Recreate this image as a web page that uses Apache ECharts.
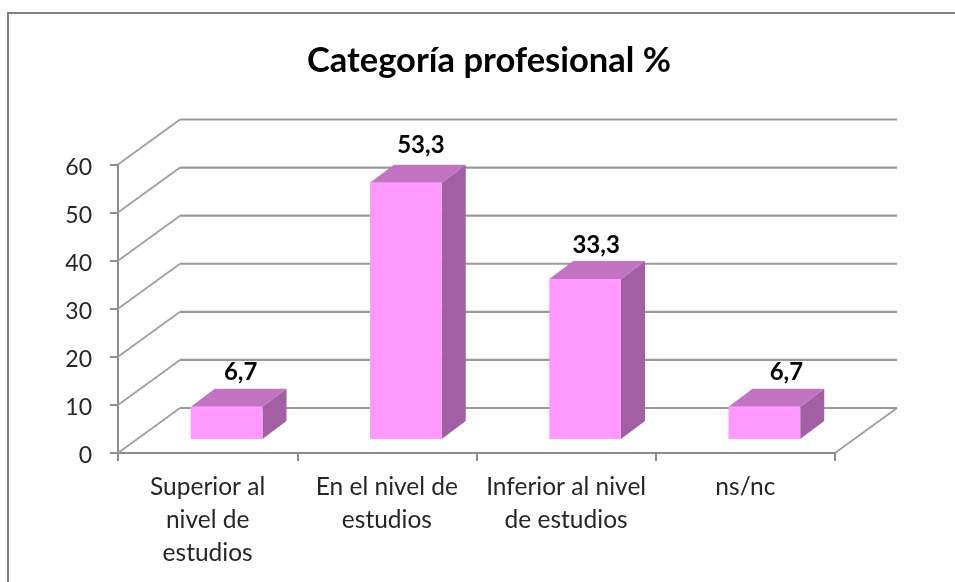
<!DOCTYPE html>
<html>
<head>
<meta charset="utf-8">
<style>html,body{margin:0;padding:0;background:#fff}#c{width:955px;height:582px}</style>
<script src="https://cdn.jsdelivr.net/npm/echarts@6/dist/echarts.min.js"></script>
</head>
<body>
<div id="c"></div>
<script>
const titleText = 'Categoría profesional %';
const categories = ['Superior al\nnivel de\nestudios', 'En el nivel de\nestudios', 'Inferior al nivel\nde estudios', 'ns/nc'];
const values = [6.7, 53.3, 33.3, 6.7];
const yTicks = [0, 10, 20, 30, 40, 50, 60];

const FONT = 'Lato';
const WALL = [62, -45];       // floor depth in px
const BAR_FRONT = [19, -14];  // bar front plane offset
const BAR_DEPTH = [24, -18];  // bar depth
const LABEL_NUDGE = [[0, 0], [1, -2], [-3, 1], [8, 0]]; // hand-placed labels

const chart = echarts.init(document.getElementById('c'));

function renderWall(params, api) {
  const cs = params.coordSys;
  const y = api.coord([0, api.value(0)])[1];
  const x0 = cs.x, x1 = cs.x + cs.width;
  const lineStyle = { stroke: '#999999', lineWidth: 2.2, fill: null };
  const diag = { stroke: '#a0a0a0', lineWidth: 1.8 };
  const children = [
    { type: 'line', shape: { x1: x0, y1: y, x2: x0 + WALL[0], y2: y + WALL[1] }, style: diag },
    { type: 'line', shape: { x1: x0 + WALL[0], y1: y + WALL[1], x2: x1 + WALL[0], y2: y + WALL[1] }, style: lineStyle }
  ];
  if (api.value(0) === 0) {
    children.push({ type: 'line', shape: { x1: x1, y1: y, x2: x1 + WALL[0], y2: y + WALL[1] }, style: diag });
  }
  return { type: 'group', children };
}

function renderBar(params, api) {
  const i = api.value(0), v = api.value(1);
  const w = api.size([1, 0])[0] * 0.4;
  const top = api.coord([i, v]);
  const base = api.coord([i, 0]);
  const l = top[0] - w / 2 + BAR_FRONT[0], r = l + w;
  const t = top[1] + BAR_FRONT[1], b = base[1] + BAR_FRONT[1];
  const dx = BAR_DEPTH[0], dy = BAR_DEPTH[1];
  const n = LABEL_NUDGE[i];
  return {
    type: 'group',
    children: [
      { type: 'polygon', shape: { points: [[r, t], [r + dx, t + dy], [r + dx, b + dy], [r, b]] },
        style: { fill: '#a35fa3' } },
      { type: 'polygon', shape: { points: [[l, t], [l + dx, t + dy], [r + dx, t + dy], [r, t]] },
        style: { fill: '#c273c2' } },
      { type: 'rect', shape: { x: l, y: t, width: w, height: b - t },
        style: { fill: '#ff99ff' } },
      { type: 'text',
        style: { x: (l + r) / 2 + 14 + n[0], y: t + dy - 17 + n[1], text: String(v).replace('.', ','),
          fill: '#000', font: 'bold 24px ' + FONT, align: 'center', verticalAlign: 'middle' } }
    ]
  };
}

chart.setOption({
  animation: false,
  backgroundColor: '#ffffff',
  title: {
    text: titleText, left: 484, top: 38, textAlign: 'center',
    textStyle: { fontFamily: FONT, fontSize: 34.5, fontWeight: 'bold', color: '#000' }
  },
  grid: { left: 118, right: 120, top: 164.5, bottom: 129, containLabel: false },
  xAxis: {
    type: 'category', data: categories,
    axisLine: { lineStyle: { color: '#8c8c8c', width: 2 } },
    axisTick: { show: true, length: 8, lineStyle: { color: '#8c8c8c', width: 2 } },
    axisLabel: { interval: 0, margin: 18, lineHeight: 33, fontFamily: FONT, fontSize: 24.5, color: '#262626' },
    splitLine: { show: false }
  },
  yAxis: {
    type: 'value', min: 0, max: 60, interval: 10,
    axisLine: { show: true, lineStyle: { color: '#8c8c8c', width: 2 } },
    axisTick: { show: true, length: 8, lineStyle: { color: '#8c8c8c', width: 2 } },
    axisLabel: { margin: 26, verticalAlign: 'top', lineHeight: 6, fontFamily: FONT, fontSize: 23, color: '#262626', formatter: v => String(v) },
    splitLine: { show: false }
  },
  graphic: [{
    type: 'polyline', silent: true, z: -1,
    shape: { points: [[8, 582], [8, 13], [955, 13]] },
    style: { stroke: '#808080', lineWidth: 2, fill: null }
  }],
  series: [
    { type: 'custom', name: 'wall', z: 1, silent: true, renderItem: renderWall,
      data: yTicks.map(t => [t]), encode: { y: 0 }, clip: false },
    { type: 'custom', name: 'Categoría profesional', z: 3, renderItem: renderBar,
      data: values.map((v, i) => [i, v]), encode: { x: 0, y: 1 }, clip: false }
  ]
});
</script>
</body>
</html>
